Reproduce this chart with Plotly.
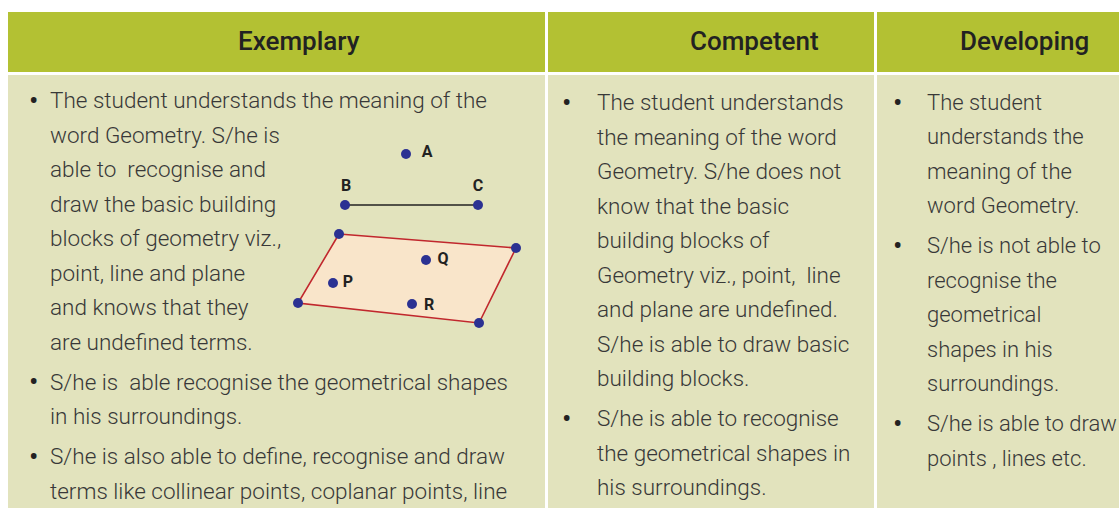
import plotly.graph_objects as go

# rubric table: headers, column edges and text
headers = ['Exemplary', 'Competent', 'Developing']
header_x = [299, 754, 1024]
col_left = [8, 548, 877]
col_right = [545, 874, 1125]

exemplary = [
    ['The student understands the meaning of the',
     'word Geometry. S/he is',
     'able to  recognise and',
     'draw the basic building',
     'blocks of geometry viz.,',
     'point, line and plane',
     'and knows that they',
     'are undefined terms.'],
    ['S/he is  able recognise the geometrical shapes',
     'in his surroundings.'],
    ['S/he is also able to define, recognise and draw',
     'terms like collinear points, coplanar points, line'],
]
competent = [
    ['The student understands',
     'the meaning of the word',
     'Geometry. S/he does not',
     'know that the basic',
     'building blocks of',
     'Geometry viz., point,  line',
     'and plane are undefined.',
     'S/he is able to draw basic',
     'building blocks.'],
    ['S/he is able to recognise',
     'the geometrical shapes in',
     'his surroundings.'],
]
developing = [
    ['The student',
     'understands the',
     'meaning of the',
     'word Geometry.'],
    ['S/he is not able to',
     'recognise the',
     'geometrical',
     'shapes in his',
     'surroundings.'],
    ['S/he is able to draw',
     'points , lines etc.'],
]
columns = [exemplary, competent, developing]
bullet_x = [33, 566, 897]
text_x = [48, 595, 925]
first_y = [100, 102, 102]
text_size = [22.5, 22.5, 22]

# geometry sketch in the first cell
plane_x = [339, 516, 479, 298, 339]
plane_y = [234, 248, 323, 303, 234]
segment_x = [345, 478]
segment_y = [205, 205]
point_names = ['A', 'B', 'C', 'P', 'Q', 'R']
point_x = [406, 345, 478, 333, 426, 412]
point_y = [154, 205, 205, 283, 260, 304]
label_x = [427, 346, 478, 348, 443, 429]
label_y = [153, 187, 187, 283, 260, 306]

HEADER = '#B3C133'
BODY = '#E2E3BD'
FONT = 'Roboto'

fig = go.Figure()

shapes = []
for l, r in zip(col_left, col_right):
    shapes.append(dict(type='rect', x0=l, x1=r, y0=12, y1=72,
                       fillcolor=HEADER, line_width=0, layer='below'))
    shapes.append(dict(type='rect', x0=l, x1=r, y0=75, y1=520,
                       fillcolor=BODY, line_width=0, layer='below'))

annotations = []
for name, hx in zip(headers, header_x):
    annotations.append(dict(x=hx, y=41, text=name, showarrow=False,
                            xanchor='center', yanchor='middle',
                            font=dict(family=FONT, size=26, color='#222222', weight=500)))

step = 34.5
gap = 40
for col, bx, tx, y0, fs in zip(columns, bullet_x, text_x, first_y, text_size):
    y = y0
    for bullet in col:
        annotations.append(dict(x=bx, y=y, text='•', showarrow=False,
                                xanchor='center', yanchor='middle',
                                font=dict(family=FONT, size=28, color='#222222')))
        for i, line in enumerate(bullet):
            annotations.append(dict(x=tx, y=y, text=line, showarrow=False,
                                    xanchor='left', yanchor='middle',
                                    font=dict(family=FONT, size=fs, color='#383838', weight=300)))
            if i < len(bullet) - 1:
                y += step
        y += gap

fig.add_trace(go.Scatter(x=plane_x, y=plane_y, mode='lines', fill='toself',
                         fillcolor='#F9E5CA', line=dict(color='#C1272D', width=1.6),
                         hoverinfo='skip'))
fig.add_trace(go.Scatter(x=segment_x, y=segment_y, mode='lines',
                         line=dict(color='#222222', width=1.6), hoverinfo='skip'))
fig.add_trace(go.Scatter(x=plane_x[:4], y=plane_y[:4], mode='markers',
                         marker=dict(color='#2B3192', size=10), hoverinfo='skip'))
fig.add_trace(go.Scatter(x=point_x, y=point_y, mode='markers',
                         marker=dict(color='#2B3192', size=10), hoverinfo='skip'))
fig.add_trace(go.Scatter(x=label_x, y=label_y, mode='text', text=point_names,
                         textposition='middle center',
                         textfont=dict(family=FONT, size=16, color='#222222', weight='bold'),
                         hoverinfo='skip'))

fig.update_layout(width=1119, height=508, margin=dict(l=0, r=0, t=0, b=0),
                  paper_bgcolor='white', plot_bgcolor='white', showlegend=False,
                  shapes=shapes, annotations=annotations)
fig.update_xaxes(range=[0, 1119], visible=False, fixedrange=True)
fig.update_yaxes(range=[508, 0], visible=False, fixedrange=True)
fig.write_html('out.html', config={'displayModeBar': False},
               post_script="document.body.style.margin='0';document.body.style.overflow='hidden';")
